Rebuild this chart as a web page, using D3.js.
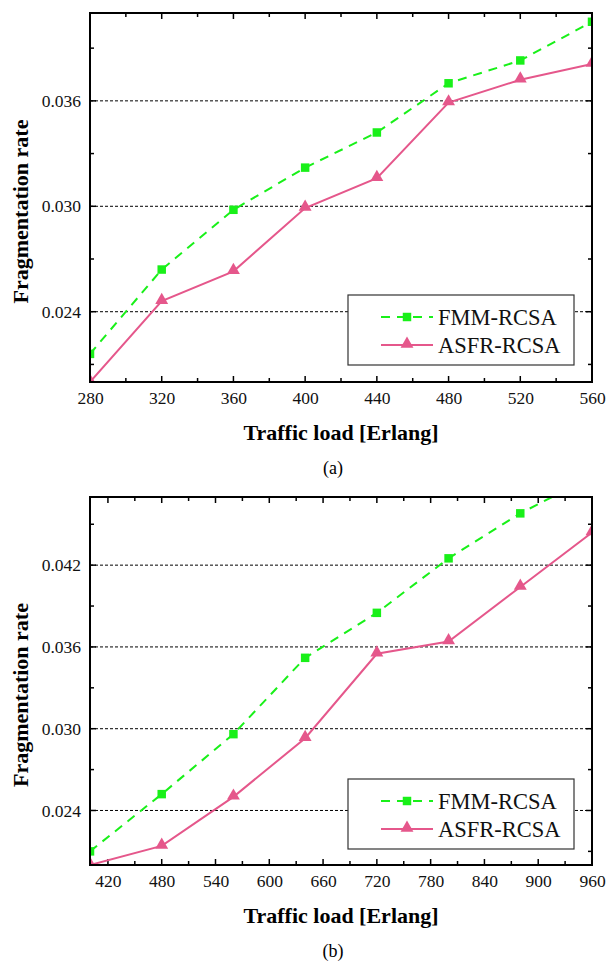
<!DOCTYPE html>
<html>
<head>
<meta charset="utf-8">
<script src="https://cdn.jsdelivr.net/npm/d3@7"></script>
<style>
  body { margin: 0; background: #fff; }
  svg { display: block; }
  svg text { font-family: "Liberation Serif", "Times New Roman", serif; }
</style>
</head>
<body>
<svg id="chart" width="607" height="964"></svg>
<script>
// panel (a)
const loadA = [280, 320, 360, 400, 440, 480, 520, 560];
const fmmA  = [0.0216, 0.0264, 0.0298, 0.0322, 0.0342, 0.0370, 0.0383, 0.0405];
const asfrA = [0.0200, 0.0246, 0.0263, 0.0299, 0.0316, 0.0359, 0.0372, 0.0381];
const xTicksA = [280, 320, 360, 400, 440, 480, 520, 560];
const yTicksA = [0.024, 0.030, 0.036];

// panel (b)
const loadB = [400, 480, 560, 640, 720, 800, 880, 960];
const fmmB  = [0.0210, 0.0252, 0.0296, 0.0352, 0.0385, 0.0425, 0.0458, 0.0485];
const asfrB = [0.0200, 0.0214, 0.0250, 0.0293, 0.0355, 0.0364, 0.0404, 0.0444];
const xTicksB = [420, 480, 540, 600, 660, 720, 780, 840, 900, 960];
const yTicksB = [0.024, 0.030, 0.036, 0.042];

const seriesNames = ["FMM-RCSA", "ASFR-RCSA"];
const green = "#19f019";
const pink = "#e5578b";

const svg = d3.select("#chart");

function drawPanel(o) {
  const x = d3.scaleLinear().domain(o.xDomain).range([o.left, o.right]);
  const y = d3.scaleLinear().domain(o.yDomain).range([o.bottom, o.top]);
  const g = svg.append("g");

  const clipId = "clip-" + o.id;
  svg.append("clipPath").attr("id", clipId)
    .append("rect")
    .attr("x", o.left).attr("y", o.top)
    .attr("width", o.right - o.left).attr("height", o.bottom - o.top);

  // dashed grid at labelled y values
  g.selectAll(".grid").data(o.yTicks).enter().append("line")
    .attr("x1", o.left).attr("x2", o.right)
    .attr("y1", d => y(d)).attr("y2", d => y(d))
    .attr("stroke", "#000").attr("stroke-width", 1)
    .attr("stroke-dasharray", "3,2");

  // minor ticks between labels
  const xMinor = o.xTicks.map(v => v - o.xStep / 2);
  xMinor.push(o.xTicks[o.xTicks.length - 1] + o.xStep / 2);
  const xMin = xMinor.filter(v => v >= o.xDomain[0] && v <= o.xDomain[1]);
  const yMinor = [];
  for (let v = o.yTicks[0] - o.yStep / 2; v <= o.yDomain[1]; v += o.yStep) {
    if (v >= o.yDomain[0]) yMinor.push(v);
  }

  const axB = d3.axisBottom(x).tickValues(o.xTicks).tickSize(0).tickPadding(10).tickFormat(d3.format("d"));
  const axL = d3.axisLeft(y).tickValues(o.yTicks).tickSize(0).tickPadding(9).tickFormat(d3.format(".3f"));

  const gb = g.append("g").attr("transform", `translate(0,${o.bottom})`).call(axB);
  const gl = g.append("g").attr("transform", `translate(${o.left},0)`).call(axL);
  [gb, gl].forEach(a => {
    a.attr("font-family", null).attr("font-size", null);
    a.select(".domain").remove();
    a.selectAll("text").style("font-size", "17.5px").style("fill", "#111");
  });

  // inward ticks on all four sides
  const tk = g.append("g").attr("stroke", "#000").attr("stroke-width", 1.5);
  const xAll = o.xTicks.map(v => [v, 6]).concat(xMin.map(v => [v, 4]));
  const yAll = o.yTicks.map(v => [v, 6]).concat(yMinor.map(v => [v, 4]));
  xAll.forEach(([v, len]) => {
    tk.append("line").attr("x1", x(v)).attr("x2", x(v)).attr("y1", o.bottom).attr("y2", o.bottom - len);
    tk.append("line").attr("x1", x(v)).attr("x2", x(v)).attr("y1", o.top).attr("y2", o.top + len);
  });
  yAll.forEach(([v, len]) => {
    tk.append("line").attr("y1", y(v)).attr("y2", y(v)).attr("x1", o.left).attr("x2", o.left + len);
    tk.append("line").attr("y1", y(v)).attr("y2", y(v)).attr("x1", o.right).attr("x2", o.right - len);
  });

  // lines and markers
  const plot = g.append("g").attr("clip-path", `url(#${clipId})`);
  const line = d3.line().x(d => x(d[0])).y(d => y(d[1]));
  const fmm = d3.zip(o.load, o.fmm);
  const asfr = d3.zip(o.load, o.asfr);

  plot.append("path").datum(asfr).attr("d", line)
    .attr("fill", "none").attr("stroke", pink).attr("stroke-width", 2);
  plot.append("path").datum(fmm).attr("d", line)
    .attr("fill", "none").attr("stroke", green).attr("stroke-width", 2)
    .attr("stroke-dasharray", "9,7");

  const tri = d3.symbol().type(d3.symbolTriangle).size(72);
  const sq = d3.symbol().type(d3.symbolSquare).size(72);
  plot.selectAll(".tri").data(asfr).enter().append("path")
    .attr("d", tri).attr("fill", pink)
    .attr("transform", d => `translate(${x(d[0])},${y(d[1]) - 1})`);
  plot.selectAll(".sq").data(fmm).enter().append("path")
    .attr("d", sq).attr("fill", green)
    .attr("transform", d => `translate(${x(d[0])},${y(d[1])})`);

  // frame
  g.append("rect")
    .attr("x", o.left).attr("y", o.top)
    .attr("width", o.right - o.left).attr("height", o.bottom - o.top)
    .attr("fill", "none").attr("stroke", "#000").attr("stroke-width", 2);

  // legend
  const lg = g.append("g");
  lg.append("rect")
    .attr("x", 348).attr("y", o.legendTop)
    .attr("width", 226).attr("height", 70)
    .attr("fill", "#fff").attr("stroke", "#333").attr("stroke-width", 1.2);
  seriesNames.forEach((name, i) => {
    const ry = o.legendTop + 22 + i * 28;
    const isFmm = i === 0;
    lg.append("line")
      .attr("x1", 381).attr("x2", 433).attr("y1", ry).attr("y2", ry)
      .attr("stroke", isFmm ? green : pink).attr("stroke-width", 2)
      .attr("stroke-dasharray", isFmm ? "9,7" : null);
    lg.append("path")
      .attr("d", isFmm ? sq : tri)
      .attr("fill", isFmm ? green : pink)
      .attr("transform", `translate(407,${isFmm ? ry : ry - 1})`);
    lg.append("text")
      .attr("x", 438).attr("y", ry + 8)
      .style("font-size", "22.5px").style("fill", "#111")
      .text(name);
  });

  // titles
  g.append("text")
    .attr("x", (o.left + o.right) / 2).attr("y", o.bottom + 58)
    .attr("text-anchor", "middle")
    .style("font-size", "22px").style("font-weight", "bold")
    .text("Traffic load [Erlang]");
  g.append("text")
    .attr("transform", `translate(28,${(o.top + o.bottom) / 2 + 14}) rotate(-90)`)
    .attr("text-anchor", "middle")
    .style("font-size", "22px").style("font-weight", "bold")
    .text("Fragmentation rate");
  g.append("text")
    .attr("x", 333).attr("y", o.bottom + 92)
    .attr("text-anchor", "middle").style("font-size", "18px")
    .text(o.caption);
}

drawPanel({
  id: "a", left: 90, right: 592, top: 13, bottom: 382,
  xDomain: [280, 560], yDomain: [0.020, 0.041], xStep: 40, yStep: 0.006,
  load: loadA, fmm: fmmA, asfr: asfrA, xTicks: xTicksA, yTicks: yTicksA,
  legendTop: 295, caption: "(a)"
});

drawPanel({
  id: "b", left: 90, right: 592, top: 497, bottom: 865,
  xDomain: [400, 960], yDomain: [0.020, 0.047], xStep: 60, yStep: 0.006,
  load: loadB, fmm: fmmB, asfr: asfrB, xTicks: xTicksB, yTicks: yTicksB,
  legendTop: 779, caption: "(b)"
});
</script>
</body>
</html>
